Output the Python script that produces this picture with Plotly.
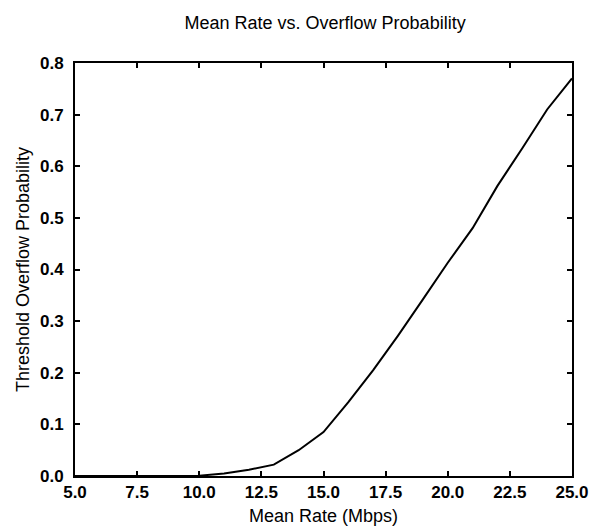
import plotly.graph_objects as go

mean_rate = [5, 6, 7, 8, 9, 10, 11, 12, 13, 14, 15, 16, 17, 18, 19, 20, 21, 22, 23, 24, 25]
overflow_prob = [0.0, 0.0, 0.0, 0.0, 0.0, 0.0005, 0.005, 0.012, 0.022, 0.05, 0.085, 0.143,
                 0.205, 0.272, 0.342, 0.413, 0.48, 0.562, 0.635, 0.71, 0.77]
x_ticks = [5.0, 7.5, 10.0, 12.5, 15.0, 17.5, 20.0, 22.5, 25.0]
y_ticks = [0.0, 0.1, 0.2, 0.3, 0.4, 0.5, 0.6, 0.7, 0.8]

FONT = "Liberation Sans, Arial, sans-serif"

fig = go.Figure()
fig.add_trace(go.Scatter(x=mean_rate, y=overflow_prob, mode="lines",
                         line=dict(color="black", width=2), showlegend=False,
                         hoverinfo="skip"))

axis_common = dict(showgrid=False, zeroline=False, showline=True, linecolor="black",
                   linewidth=2, mirror="ticks", ticks="inside", ticklen=5,
                   tickwidth=1.5, tickcolor="black", automargin=False,
                   tickfont=dict(family=FONT, size=17, color="black", weight="bold"))

fig.update_layout(
    width=590, height=526,
    margin=dict(l=75, r=18, t=63, b=50),
    paper_bgcolor="white", plot_bgcolor="white",
    title=dict(text="Mean Rate vs. Overflow Probability", x=0.551, xanchor="center",
               y=0.956, yanchor="middle",
               font=dict(family=FONT, size=18, color="black")),
    xaxis=dict(range=[5, 25], tickvals=x_ticks, tickformat=".1f",
               title=dict(text="Mean Rate (Mbps)", standoff=8,
                          font=dict(family=FONT, size=18, color="black")),
               **axis_common),
    yaxis=dict(range=[0, 0.8], tickvals=y_ticks, tickformat=".1f",
               ticklabelstandoff=6,
               title=dict(text="Threshold Overflow Probability", standoff=6,
                          font=dict(family=FONT, size=18, color="black")),
               **axis_common),
)

fig.write_html("out.html")
